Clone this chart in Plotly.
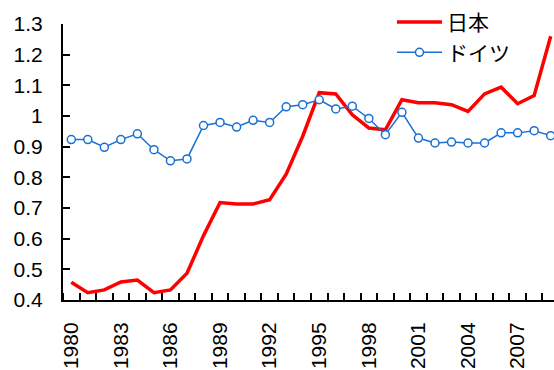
import plotly.graph_objects as go

# Yearly index values, 1980-2009
years = list(range(1980, 2010))
japan = [0.458, 0.424, 0.433, 0.459, 0.465, 0.424, 0.433, 0.487, 0.610, 0.718,
         0.713, 0.713, 0.727, 0.810, 0.934, 1.076, 1.072, 1.004, 0.961, 0.955,
         1.053, 1.043, 1.043, 1.037, 1.015, 1.072, 1.094, 1.040, 1.067, 1.260]
germany = [0.923, 0.923, 0.898, 0.923, 0.942, 0.890, 0.854, 0.860, 0.969, 0.979,
           0.964, 0.986, 0.979, 1.030, 1.037, 1.053, 1.023, 1.032, 0.992, 0.939,
           1.012, 0.928, 0.912, 0.915, 0.912, 0.912, 0.945, 0.945, 0.952, 0.936]

x_tick_years = [1980, 1983, 1986, 1989, 1992, 1995, 1998, 2001, 2004, 2007]
y_tick_vals = [0.4, 0.5, 0.6, 0.7, 0.8, 0.9, 1.0, 1.1, 1.2, 1.3]
y_tick_text = ["0.4", "0.5", "0.6", "0.7", "0.8", "0.9", "1", "1.1", "1.2", "1.3"]

RED = "#FF0000"
BLUE = "#1A6FD3"
FONT = "Liberation Sans, Arial, Noto Sans CJK JP"

fig = go.Figure()
fig.add_trace(go.Scatter(
    x=years, y=japan, name="日本", mode="lines", legendgroup="jp",
    line=dict(color=RED, width=3.5),
))
fig.add_trace(go.Scatter(
    x=years, y=germany, name="ドイツ", mode="lines+markers", legendgroup="de",
    line=dict(color=BLUE, width=1.5),
    marker=dict(symbol="circle", size=8, color="white",
                line=dict(color=BLUE, width=1.5)),
))

fig.update_layout(
    width=554, height=370,
    margin=dict(l=63, r=0, t=24, b=70),
    paper_bgcolor="white", plot_bgcolor="white",
    font=dict(family=FONT, size=19, color="black"),
    showlegend=True,
    legend=dict(
        x=0.67, y=1.08, xanchor="left", yanchor="top",
        font=dict(family="Noto Sans CJK JP", size=21, color="black"),
        bgcolor="rgba(0,0,0,0)", traceorder="grouped", tracegroupgap=0,
        itemwidth=45,
    ),
    xaxis=dict(
        range=[1979.5, 2009.2],
        tickmode="array", tickvals=x_tick_years,
        ticktext=[str(v) for v in x_tick_years],
        tickangle=-90, ticks="", ticklabelstandoff=12,
        showgrid=False, zeroline=False,
        showline=True, linecolor="black", linewidth=2,
        tickfont=dict(size=21),
        minor=dict(tickmode="linear", tick0=1980.5, dtick=1,
                   ticks="inside", ticklen=7, tickwidth=1.5,
                   tickcolor="black", showgrid=False),
    ),
    yaxis=dict(
        range=[0.4, 1.3],
        tickmode="array", tickvals=y_tick_vals, ticktext=y_tick_text,
        ticks="inside", ticklen=7, tickwidth=1.5, tickcolor="black",
        ticklabelstandoff=14,
        showgrid=False, zeroline=False,
        showline=True, linecolor="black", linewidth=2,
        tickfont=dict(size=21),
    ),
)

fig.write_html("out.html")
